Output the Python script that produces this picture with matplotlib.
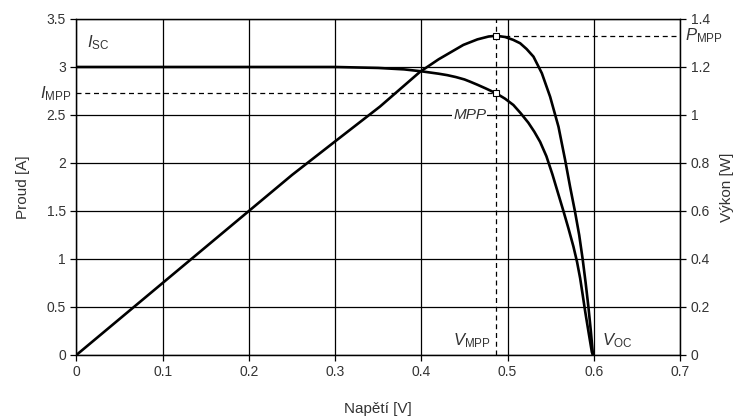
import matplotlib.pyplot as plt

plt.rcParams['font.family'] = ['Liberation Sans', 'DejaVu Sans']
plt.rcParams['mathtext.fontset'] = 'custom'
plt.rcParams['mathtext.rm'] = 'Liberation Sans'
plt.rcParams['mathtext.it'] = 'Liberation Sans:italic'

# I-V curve
v_cur = [0.0, 0.1, 0.2, 0.3, 0.35, 0.38, 0.40, 0.42, 0.43, 0.44, 0.45, 0.4565,
         0.465, 0.475, 0.4867, 0.497, 0.5067, 0.515, 0.524, 0.531, 0.5377, 0.545,
         0.552, 0.558, 0.5647, 0.5705, 0.5763, 0.5805, 0.5841, 0.587, 0.590,
         0.594, 0.5977, 0.599]
i_cur = [3.0, 3.0, 3.0, 3.0, 2.99, 2.975, 2.955, 2.93, 2.915, 2.895, 2.87, 2.847,
         2.815, 2.775, 2.726, 2.67, 2.604, 2.52, 2.42, 2.325, 2.22, 2.07,
         1.88, 1.70, 1.50, 1.32, 1.13, 0.97, 0.80, 0.63, 0.45,
         0.23, 0.03, 0.0]

# P-V curve
v_pow = [0.0, 0.05, 0.1, 0.15, 0.2, 0.25, 0.3, 0.352, 0.3985, 0.42, 0.4487,
         0.465, 0.478, 0.4867, 0.497, 0.5065, 0.5145, 0.522, 0.530, 0.5397,
         0.5493, 0.559, 0.5667, 0.5725, 0.578, 0.583, 0.587, 0.5905, 0.5937,
         0.5965, 0.599]
p_pow = [0.0, 0.15, 0.30, 0.45, 0.60, 0.75, 0.89, 1.035, 1.18, 1.232, 1.292,
         1.315, 1.327, 1.33, 1.325, 1.313, 1.299, 1.275, 1.243, 1.174,
         1.076, 0.951, 0.8125, 0.70, 0.60, 0.50, 0.40, 0.30, 0.20,
         0.10, 0.0]

v_mpp = 0.4867
i_mpp = 2.726
p_mpp = 1.33
v_oc = 0.599

x_ticks = [0, 0.1, 0.2, 0.3, 0.4, 0.5, 0.6, 0.7]
i_ticks = [0, 0.5, 1, 1.5, 2, 2.5, 3, 3.5]
p_ticks = [0, 0.2, 0.4, 0.6, 0.8, 1, 1.2, 1.4]

fig = plt.figure(figsize=(7.49, 4.20), dpi=100)
ax = fig.add_axes([0.102, 0.1548, 0.806, 0.80])
ax2 = ax.twinx()

txt = '#333333'
ax.set_xlim(0, 0.7)
ax.set_ylim(0, 3.5)
ax2.set_ylim(0, 1.4)
ax.set_xticks(x_ticks)
ax.set_xticklabels([f'{t:g}' for t in x_ticks])
ax.set_yticks(i_ticks)
ax.set_yticklabels([f'{t:g}' for t in i_ticks])
ax2.set_yticks(p_ticks)
ax2.set_yticklabels([f'{t:g}' for t in p_ticks])
ax.grid(True, color='black', linewidth=0.9)
ax.set_axisbelow(True)
for a in (ax, ax2):
    a.tick_params(colors='black', labelcolor=txt, labelsize=10, length=4, width=0.9)
    for s in a.spines.values():
        s.set_linewidth(0.9)

ax.plot(v_cur, i_cur, color='black', linewidth=1.9, zorder=3, solid_joinstyle='round')
ax2.plot(v_pow, p_pow, color='black', linewidth=1.9, zorder=3, solid_joinstyle='round')

# MPP guide lines
ax.plot([0, v_mpp], [i_mpp, i_mpp], color='black', linestyle=(0, (4, 3)), linewidth=0.9)
ax.axvline(v_mpp, color='black', linestyle=(0, (4, 3)), linewidth=0.9)
ax2.plot([v_mpp, 0.7], [p_mpp, p_mpp], color='black', linestyle=(0, (4, 3)), linewidth=0.9)
ax.plot([v_mpp], [i_mpp], marker='s', markersize=4, markerfacecolor='white',
        markeredgecolor='black', markeredgewidth=0.8, zorder=4)
ax2.plot([v_mpp], [p_mpp], marker='s', markersize=4, markerfacecolor='white',
         markeredgecolor='black', markeredgewidth=0.8, zorder=4)

ax.set_xlabel('Napětí [V]', fontsize=11, color=txt, labelpad=16)
ax.set_ylabel('Proud [A]', fontsize=11, color=txt, labelpad=12)
ax2.set_ylabel('Výkon [W]', fontsize=11, color=txt, labelpad=7)

ax.text(0.012, 3.2, r'$\mathit{I}_{\mathrm{SC}}$', fontsize=12, color=txt)
ax.text(-0.006, i_mpp, r'$\mathit{I}_{\mathrm{MPP}}$', fontsize=12, color=txt,
        ha='right', va='center', clip_on=False)
ax.text(0.475, 2.5, 'MPP', fontsize=11, style='italic', color=txt, ha='right', va='center',
        bbox=dict(facecolor='white', edgecolor='none', pad=1))
ax.text(0.481, 0.05, r'$\mathit{V}_{\mathrm{MPP}}$', fontsize=12, color=txt, ha='right', va='bottom')
ax.text(v_oc + 0.01, 0.05, r'$\mathit{V}_{\mathrm{OC}}$', fontsize=12, color=txt, ha='left', va='bottom')
ax2.text(0.706, p_mpp, r'$\mathit{P}_{\mathrm{MPP}}$', fontsize=12, color=txt,
         ha='left', va='center', clip_on=False)

fig.savefig('out.png', dpi=100)
